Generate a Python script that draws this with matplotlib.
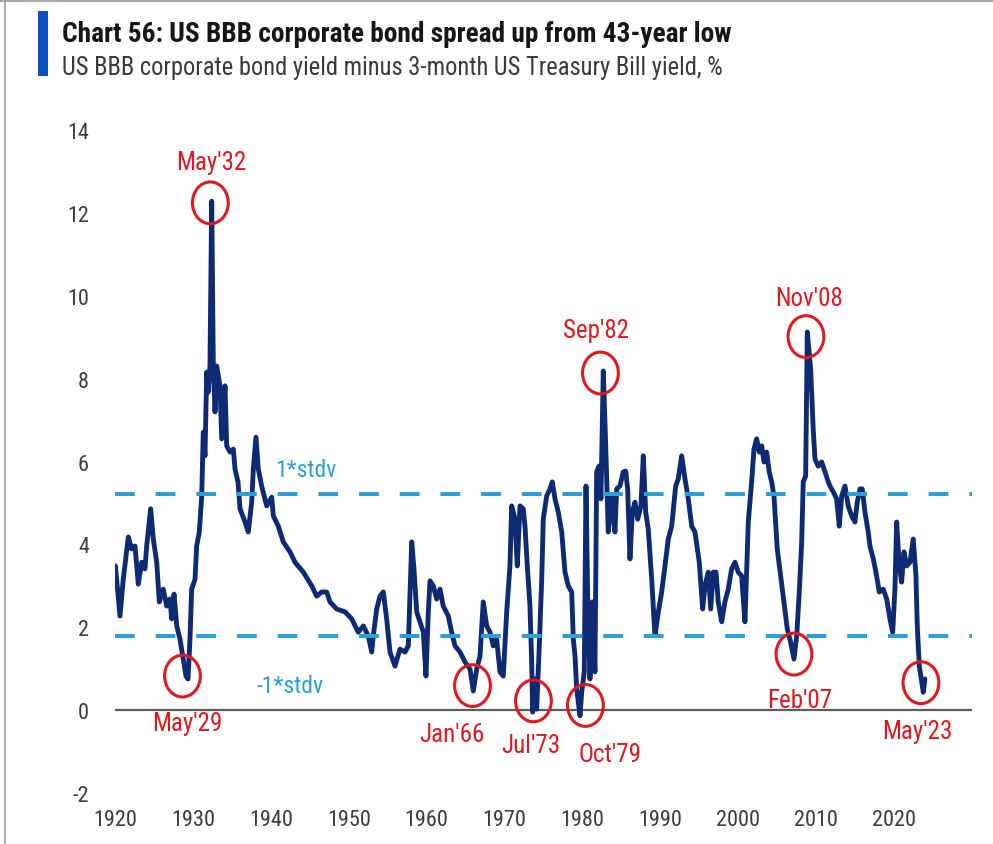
import matplotlib
matplotlib.use("Agg")
import matplotlib.pyplot as plt
from matplotlib import font_manager
from matplotlib.patches import Ellipse, Rectangle
from matplotlib.lines import Line2D


def pick_font(candidates):
    for name in candidates:
        try:
            font_manager.findfont(font_manager.FontProperties(family=name),
                                  fallback_to_default=False)
            return name
        except Exception:
            continue
    return "DejaVu Sans"


FONT = pick_font(["Liberation Sans Narrow", "Roboto Condensed", "Liberation Sans"])

# ---- data -------------------------------------------------------------
years = [
    1920.00, 1920.59, 1921.01, 1921.66, 1922.09, 1922.52, 1922.94, 1923.38, 1923.80, 1924.02,
    1924.53, 1924.87, 1925.31, 1925.64, 1926.15, 1926.59, 1927.01, 1927.23, 1927.53, 1927.88,
    1928.30, 1928.72, 1929.07, 1929.33, 1929.58, 1929.80, 1930.23, 1930.44, 1930.78, 1931.09,
    1931.29, 1931.51, 1931.73, 1931.93, 1932.15, 1932.37, 1932.58, 1932.80, 1933.01, 1933.44,
    1933.66, 1934.08, 1934.30, 1934.73, 1935.15, 1935.37, 1935.75, 1936.01, 1936.66, 1937.07,
    1937.51, 1937.72, 1938.06, 1938.36, 1938.79, 1939.44, 1940.08, 1940.29, 1940.93, 1941.57,
    1942.43, 1943.07, 1944.14, 1945.22, 1945.86, 1946.50, 1947.15, 1947.57, 1948.43, 1949.50,
    1950.36, 1951.20, 1951.85, 1952.49, 1952.93, 1953.13, 1953.57, 1953.99, 1954.42, 1954.85,
    1955.28, 1955.92, 1956.56, 1957.21, 1957.63, 1958.07, 1958.36, 1958.71, 1959.13, 1959.56,
    1959.90, 1960.20, 1960.42, 1960.84, 1961.28, 1961.70, 1962.12, 1962.77, 1963.20, 1963.63,
    1964.27, 1964.91, 1965.56, 1965.98, 1966.42, 1966.84, 1967.26, 1967.70, 1968.12, 1968.55,
    1968.98, 1969.41, 1969.83, 1970.27, 1970.69, 1970.91, 1971.34, 1971.63, 1971.98, 1972.40,
    1972.62, 1972.92, 1973.26, 1973.48, 1973.61, 1973.90, 1974.12, 1974.46, 1974.77, 1974.97,
    1975.41, 1975.83, 1976.13, 1976.48, 1976.90, 1977.34, 1977.76, 1978.18, 1978.62, 1978.83,
    1979.05, 1979.26, 1979.69, 1979.91, 1980.24, 1980.46, 1980.68, 1980.97, 1981.27, 1981.61,
    1981.83, 1982.13, 1982.38, 1982.68, 1982.99, 1983.32, 1983.76, 1984.18, 1984.40, 1984.82,
    1985.25, 1985.56, 1985.81, 1986.11, 1986.41, 1986.75, 1987.10, 1987.52, 1987.82, 1988.13,
    1988.46, 1988.90, 1989.32, 1989.75, 1990.18, 1990.61, 1991.03, 1991.47, 1991.98, 1992.31,
    1992.75, 1993.18, 1993.60, 1994.04, 1994.46, 1995.01, 1995.45, 1995.75, 1996.17, 1996.48,
    1996.81, 1997.16, 1997.45, 1997.89, 1998.31, 1998.74, 1999.17, 1999.60, 2000.02, 2000.46,
    2000.88, 2001.31, 2001.74, 2002.04, 2002.39, 2002.72, 2003.03, 2003.33, 2003.67, 2004.00,
    2004.31, 2004.61, 2005.03, 2005.47, 2005.89, 2006.32, 2006.75, 2007.18, 2007.53, 2007.86,
    2008.17, 2008.37, 2008.68, 2008.89, 2009.32, 2009.65, 2009.88, 2010.30, 2010.74, 2011.16,
    2011.59, 2011.80, 2012.23, 2012.66, 2013.00, 2013.31, 2013.73, 2014.15, 2014.59, 2015.01,
    2015.31, 2015.66, 2015.95, 2016.30, 2016.72, 2016.94, 2017.37, 2017.71, 2018.14, 2018.65,
    2019.09, 2019.51, 2019.86, 2020.15, 2020.37, 2020.71, 2021.01, 2021.31, 2021.66, 2022.08,
    2022.50, 2022.85, 2023.02, 2023.28, 2023.59, 2023.79, 2024.00,
]
spread = [
    3.48, 2.27, 3.16, 4.18, 3.89, 3.96, 3.04, 3.57, 3.41, 3.96,
    4.86, 4.13, 3.57, 2.61, 2.92, 2.51, 2.68, 2.20, 2.80, 2.03,
    1.71, 1.23, 0.82, 0.75, 1.71, 2.92, 3.16, 3.96, 4.30, 5.17,
    6.71, 6.14, 8.16, 7.68, 8.31, 12.29, 8.31, 7.20, 8.31, 7.83,
    6.55, 7.83, 6.38, 6.23, 6.30, 5.82, 5.51, 4.86, 4.54, 4.30,
    5.02, 5.82, 6.59, 5.82, 5.41, 4.93, 5.14, 4.69, 4.44, 4.06,
    3.82, 3.57, 3.33, 3.00, 2.75, 2.85, 2.85, 2.61, 2.44, 2.37,
    2.20, 1.88, 2.03, 1.79, 1.40, 1.79, 2.44, 2.75, 2.85, 2.20,
    1.40, 1.06, 1.47, 1.40, 1.55, 4.06, 3.41, 2.37, 2.13, 1.88,
    0.82, 2.37, 3.12, 3.00, 2.68, 2.92, 2.51, 2.27, 1.88, 1.55,
    1.40, 1.16, 0.99, 0.46, 0.99, 1.30, 2.61, 2.03, 1.88, 1.55,
    1.71, 0.92, 0.82, 2.37, 3.48, 4.93, 4.61, 3.48, 4.93, 4.86,
    4.44, 3.48, 2.51, 1.16, -0.05, 0.75, 0.02, 1.55, 3.16, 4.61,
    5.17, 5.34, 5.51, 5.10, 4.78, 4.30, 3.33, 3.00, 2.85, 1.71,
    1.30, 0.51, -0.14, 0.43, 0.92, 5.41, 2.68, 0.75, 2.61, 0.92,
    5.75, 5.89, 5.10, 8.19, 6.38, 4.30, 5.17, 4.30, 5.34, 5.41,
    5.75, 5.77, 5.34, 3.65, 4.78, 5.02, 4.61, 4.93, 6.14, 4.78,
    4.37, 3.16, 1.79, 2.37, 2.85, 3.48, 4.13, 4.44, 5.41, 5.58,
    6.14, 5.58, 5.10, 4.44, 4.30, 3.57, 2.44, 3.00, 3.33, 2.44,
    3.33, 3.33, 2.61, 2.13, 2.61, 2.92, 3.41, 3.57, 3.33, 3.24,
    2.13, 4.54, 5.51, 6.30, 6.55, 6.23, 6.38, 5.99, 6.23, 5.75,
    5.51, 5.17, 3.89, 3.24, 2.61, 1.96, 1.64, 1.23, 1.79, 2.85,
    4.06, 5.51, 5.65, 9.13, 8.24, 6.79, 6.06, 5.89, 5.99, 5.75,
    5.51, 5.41, 5.27, 5.10, 4.44, 5.17, 5.41, 4.93, 4.69, 4.54,
    5.02, 5.34, 5.34, 4.78, 4.30, 3.96, 3.65, 3.33, 2.85, 2.92,
    2.68, 2.20, 1.88, 2.92, 4.54, 3.48, 3.09, 3.82, 3.48, 3.57,
    4.13, 3.24, 2.03, 1.06, 0.68, 0.43, 0.75,
]

stdv_upper = 5.22
stdv_lower = 1.79

x_ticks = [1920, 1930, 1940, 1950, 1960, 1970, 1980, 1990, 2000, 2010, 2020]
y_ticks = [-2, 0, 2, 4, 6, 8, 10, 12, 14]

event_labels = ["May'32", "May'29", "Jan'66", "Jul'73", "Oct'79",
                "Sep'82", "Nov'08", "Feb'07", "May'23"]
event_x = [1932.20, 1928.62, 1965.88, 1973.71, 1980.39, 1982.32, 2008.72, 2007.18, 2023.49]
event_y = [12.25, 0.82, 0.59, 0.22, 0.11, 8.14, 9.02, 1.35, 0.66]

# label offsets from each circle, in pixels (x right, y up)
label_offsets = [(0.5, 41), (4.5, -47), (-20.5, -48.5), (-3, -44), (24.5, -48.5),
                 (-4, 43), (3, 38.5), (5.5, -46), (-4, -48.5)]

title = "Chart 56: US BBB corporate bond spread up from 43-year low"
subtitle = "US BBB corporate bond yield minus 3-month US Treasury Bill yield, %"

# ---- figure -----------------------------------------------------------
W, H = 993, 845
fig = plt.figure(figsize=(W / 100, H / 100), dpi=100)
fig.patch.set_facecolor("white")

ax_left, ax_right, ax_top, ax_bottom = 115.4, 971.6, 131.4, 793.8
ax = fig.add_axes([ax_left / W, 1 - ax_bottom / H,
                   (ax_right - ax_left) / W, (ax_bottom - ax_top) / H])
ax.set_xlim(1920, 2030)
ax.set_ylim(-2, 14)
for s in ax.spines.values():
    s.set_visible(False)

NAVY = "#0d2a73"
DASH = "#2a9fd8"
RED = "#e0191e"
TICK = "#3c3c3c"

ax.axhline(0, color="#5c5c5c", lw=1.6, zorder=1)
ax.plot(years, spread, color=NAVY, lw=3.5, solid_joinstyle="round",
        solid_capstyle="round", zorder=2)
for yv in (stdv_upper, stdv_lower):
    ax.axhline(yv, color=DASH, lw=2.9, linestyle=(0, (4.9, 5.2)),
               dash_capstyle="butt", zorder=3)

ax.text(1944.5, stdv_upper + 0.6, "1*stdv", color=DASH, family=FONT,
        fontsize=17, ha="center", va="center", zorder=4)
ax.text(1942.4, stdv_lower - 1.2, "-1*stdv", color=DASH, family=FONT,
        fontsize=17, ha="center", va="center", zorder=4)

ax.set_xticks(x_ticks)
ax.set_yticks(y_ticks)
ax.set_xticklabels([str(v) for v in x_ticks], family=FONT, fontsize=16, color=TICK)
ax.set_yticklabels([str(v) for v in y_ticks], family=FONT, fontsize=16, color=TICK)
ax.tick_params(axis="both", length=0)
ax.tick_params(axis="y", pad=19)
ax.tick_params(axis="x", pad=12)

for lab, ex, ey, (dx, dy) in zip(event_labels, event_x, event_y, label_offsets):
    ax.add_patch(Ellipse((ex, ey), width=4.6, height=1.01, fill=False,
                         edgecolor=RED, lw=2.2, zorder=5))
    ax.annotate(lab, (ex, ey), xytext=(dx, dy), textcoords="offset pixels",
                ha="center", va="center", color=RED, family=FONT,
                fontsize=18, zorder=6)

# ---- header -----------------------------------------------------------
fig.add_artist(Rectangle((38 / W, 1 - 77 / H), 10 / W, 65 / H,
                         transform=fig.transFigure, color="#0a50c6", lw=0))
t1 = fig.text(62 / W, 1 - 35 / H, title, family=FONT, fontweight="bold",
              fontsize=20, color="#161616", ha="left", va="center")
t2 = fig.text(62 / W, 1 - 68 / H, subtitle, family=FONT, fontsize=15,
              color="#3a3a3a", ha="left", va="center")

fig.canvas.draw()
for txt, target in ((t1, 669), (t2, 662)):
    w = txt.get_window_extent().width
    txt.set_fontsize(txt.get_fontsize() * target / w)

# frame lines at the image edges
fig.add_artist(Line2D([5 / W, 5 / W], [0, 1], transform=fig.transFigure,
                      color="#9a9a9a", lw=1.2))
fig.add_artist(Line2D([0, 1], [1 - 1.5 / H, 1 - 1.5 / H], transform=fig.transFigure,
                      color="#9a9a9a", lw=1.2))

fig.savefig("out.png", dpi=100, facecolor="white")
